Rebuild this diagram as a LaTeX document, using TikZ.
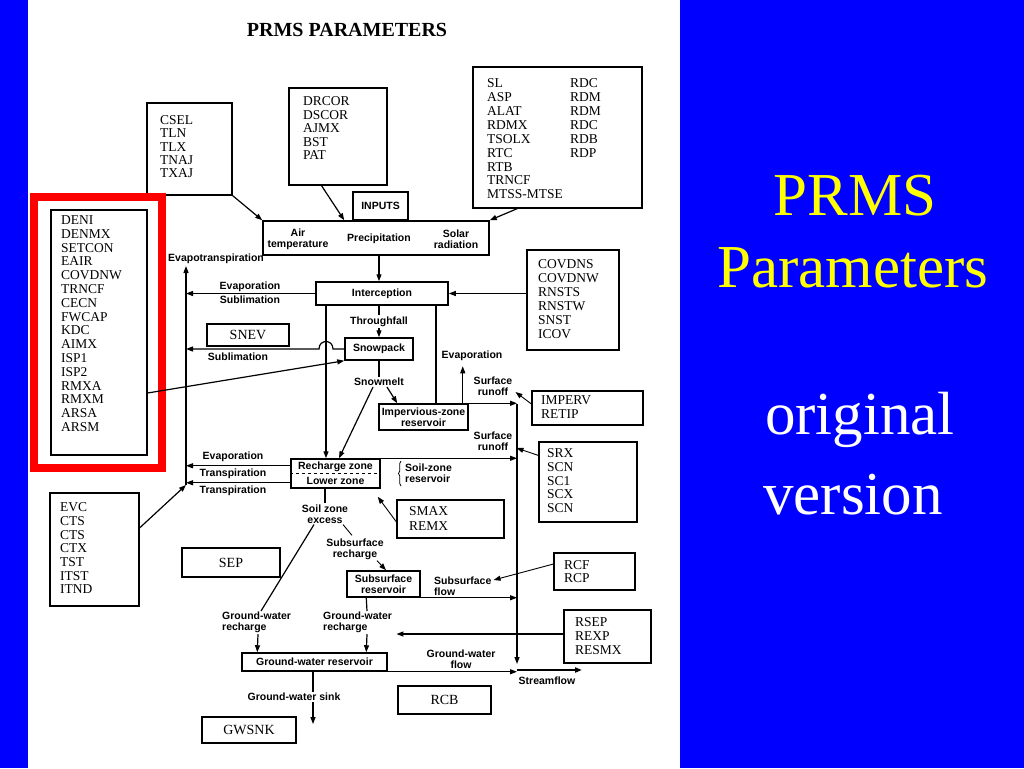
\documentclass[tikz,border=0pt]{standalone}
\usepackage{fontspec}
\setmainfont{Liberation Serif}
\setsansfont{Liberation Sans}
\usetikzlibrary{arrows.meta,calc,decorations.pathreplacing}
\newcommand{\labfont}{\sffamily\bfseries\fontsize{10.5}{11}\selectfont}
\newcommand{\plistfont}[1]{\rmfamily\fontsize{13.5}{#1}\selectfont}
\definecolor{slideblue}{RGB}{0,0,255}
\definecolor{slideyellow}{RGB}{255,255,0}
\begin{document}
\begin{tikzpicture}[x=1pt,y=-1pt,
  pbox/.style={draw, line width=1.1pt, rectangle, inner sep=0pt},
  procbox/.style={draw, line width=1.5pt, rectangle, inner sep=0pt, font=\labfont, align=center},
  plab/.style={font=\labfont, align=center, inner sep=1pt},
  ptext/.style={anchor=north west, align=left, inner sep=0pt},
  flowarr/.style={-{Triangle[length=7pt,width=5pt]}, line width=1.2pt},
  flowline/.style={line width=1.2pt}]
\useasboundingbox (0,0) rectangle (1024,768);
\fill[slideblue] (0,0) rectangle (1024,768);
\fill[white] (28,0) rectangle (680,768);

% title
\node[font=\rmfamily\bfseries\fontsize{20}{20}\selectfont] (title) at (347,30) {PRMS PARAMETERS};

% right side text
\node[font=\rmfamily\fontsize{61}{61}\selectfont, text=slideyellow] (t1) at (855,196) {PRMS};
\node[font=\rmfamily\fontsize{61}{61}\selectfont, text=slideyellow] (t2) at (853,268) {Parameters};
\node[font=\rmfamily\fontsize{61}{61}\selectfont, text=white] (t3) at (860,420) {original};
\node[font=\rmfamily\fontsize{61}{61}\selectfont, text=white] (t4) at (853,495) {version};

% parameter boxes
\node[pbox, minimum width=85pt, minimum height=92pt] (csel) at (189.5,149) {};
\node[ptext, font={\plistfont{13.25}}] (cselt) at (160,115.5) {CSEL\\TLN\\TLX\\TNAJ\\TXAJ};
\node[pbox, minimum width=98pt, minimum height=97pt] (drcor) at (338,136.5) {};
\node[ptext, font={\plistfont{13.5}}] (drcort) at (303,96.5) {DRCOR\\DSCOR\\AJMX\\BST\\PAT};
\node[pbox, minimum width=169pt, minimum height=141pt] (sl) at (557.5,137.5) {};
\node[ptext, font={\plistfont{13.9}}] (slt) at (487,78.5) {SL\\ASP\\ALAT\\RDMX\\TSOLX\\RTC\\RTB\\TRNCF\\MTSS-MTSE};
\node[ptext, font={\plistfont{13.9}}] (slt2) at (570,78.5) {RDC\\RDM\\RDM\\RDC\\RDB\\RDP};
\node[pbox, minimum width=96pt, minimum height=245pt] (deni) at (99,332.5) {};
\node[ptext, font={\plistfont{13.8}}] (denit) at (61,215.5) {DENI\\DENMX\\SETCON\\EAIR\\COVDNW\\TRNCF\\CECN\\FWCAP\\KDC\\AIMX\\ISP1\\ISP2\\RMXA\\RMXM\\ARSA\\ARSM};
\draw[red, line width=8pt] (34,197) rectangle (162,468);
\node[pbox, minimum width=92pt, minimum height=100pt] (covdns) at (573,300) {};
\node[ptext, font={\plistfont{14}}] (covdnst) at (538,259.5) {COVDNS\\COVDNW\\RNSTS\\RNSTW\\SNST\\ICOV};
\node[pbox, minimum width=82pt, minimum height=22pt, font=\rmfamily\fontsize{14}{14}\selectfont] (snev) at (248,335) {SNEV};
\node[pbox, minimum width=111pt, minimum height=34pt] (impervp) at (587.5,408) {};
\node[ptext, font={\plistfont{14}}] (impervt) at (541,395.5) {IMPERV\\RETIP};
\node[pbox, minimum width=98pt, minimum height=80pt] (srx) at (588,482) {};
\node[ptext, font={\plistfont{13.7}}] (srxt) at (547,448.5) {SRX\\SCN\\SC1\\SCX\\SCN};
\node[pbox, minimum width=107pt, minimum height=38pt] (smax) at (450.5,519) {};
\node[ptext, font={\plistfont{15}}] (smaxt) at (409,506.5) {SMAX\\REMX};
\node[pbox, minimum width=89pt, minimum height=113pt] (evc) at (94.5,549.5) {};
\node[ptext, font={\plistfont{13.7}}] (evct) at (60,502.5) {EVC\\CTS\\CTS\\CTX\\TST\\ITST\\ITND};
\node[pbox, minimum width=98pt, minimum height=29pt, font=\rmfamily\fontsize{14}{14}\selectfont] (sep) at (231,562.5) {SEP};
\node[pbox, minimum width=81pt, minimum height=37pt] (rcf) at (594.5,571.5) {};
\node[ptext, font={\plistfont{13}}] (rcft) at (564,560.5) {RCF\\RCP};
\node[pbox, minimum width=87pt, minimum height=53pt] (rsep) at (607.5,636.5) {};
\node[ptext, font={\plistfont{14}}] (rsept) at (575,617.5) {RSEP\\REXP\\RESMX};
\node[pbox, minimum width=93pt, minimum height=28pt, font=\rmfamily\fontsize{14}{14}\selectfont] (rcb) at (444.5,700) {RCB};
\node[pbox, minimum width=94pt, minimum height=26pt, font=\rmfamily\fontsize{14}{14}\selectfont] (gwsnk) at (249,730) {GWSNK};

% process boxes
\node[procbox, minimum width=226pt, minimum height=34pt] (inputs) at (376,238) {};
\node[procbox, minimum width=55pt, minimum height=28pt] (inlab) at (380.5,206) {INPUTS};
\node[plab] (tair) at (298,239) {Air\\temperature};
\node[plab] (tprec) at (379,239) {Precipitation};
\node[plab] (tsol) at (456,239) {Solar\\radiation};
\node[procbox, minimum width=132pt, minimum height=23pt] (interc) at (382,293.5) {Interception};
\node[procbox, minimum width=68pt, minimum height=22pt] (snow) at (379,349) {Snowpack};
\node[procbox, minimum width=89pt, minimum height=26pt] (imperv) at (423.5,417) {Impervious-zone\\reservoir};
\node[procbox, minimum width=89pt, minimum height=29pt] (rech) at (335.5,473.5) {};
\node[plab] (trz) at (335.5,467) {Recharge zone};
\node[plab] (tlz) at (335.5,481) {Lower zone};
\node[procbox, minimum width=73pt, minimum height=26pt] (subs) at (383.5,584) {Subsurface\\reservoir};
\node[procbox, minimum width=145pt, minimum height=18pt] (gwres) at (314.5,662) {Ground-water reservoir};

% labels
\node[plab, anchor=west] (tet) at (167,259) {Evapotranspiration};
\node[plab] (tevap1) at (250,287) {Evaporation};
\node[plab] (tsub1) at (250,300) {Sublimation};
\node[plab] (tsub2) at (238,357) {Sublimation};
\node[plab] (tsmelt) at (379,382) {Snowmelt};
\node[plab] (tevap2) at (472,356) {Evaporation};
\node[plab] (trun1) at (493,386) {Surface\\runoff};
\node[plab] (trun2) at (493,441) {Surface\\runoff};
\node[plab] (tevap3) at (233,457) {Evaporation};
\node[plab] (ttr1) at (233,474) {Transpiration};
\node[plab] (ttr2) at (233,491) {Transpiration};
\node[plab, anchor=west, align=left] (tsoil) at (404,473) {Soil-zone\\reservoir};
\node[plab] (tsze) at (325,514) {Soil zone\\excess};
\node[plab] (tssr) at (355,549) {Subsurface\\recharge};
\node[plab, anchor=west, align=left] (tssf) at (433,586) {Subsurface\\flow};
\node[plab, anchor=north west, align=left] (tgwr1) at (221,611) {Ground-water\\recharge};
\node[plab, anchor=north west, align=left] (tgwr2) at (322,611) {Ground-water\\recharge};
\node[plab] (tgwf) at (461,659) {Ground-water\\flow};
\node[plab] (tsink) at (294,697) {Ground-water sink};
\node[plab] (tstream) at (547,681) {Streamflow};

% coordinates
\coordinate (etbot) at (186,485);
\coordinate (ettop) at (186,266);
\coordinate (vx) at (326,305);
\coordinate (vy) at (436,305);
\coordinate (sftop) at (517,404);
\coordinate (sfbot) at (517,664);
\coordinate (sf1) at (517,670);
\coordinate (sf2) at (582,670);

% connectors
\draw[flowarr] (etbot) -- (ettop);
\draw[flowarr] (csel.south east) -- (inputs.north west);
\draw[flowarr] ($(drcor.south west)+(33,0)$) -- ($(inputs.north west)+(82,0)$);
\draw[flowarr] ($(sl.south west)+(45,0)$) -- (inputs.north east);
\draw[flowarr] (inputs.south -| snow.north) -- (interc.north -| snow.north);
\draw[flowarr] (interc.west) -- (interc.west -| etbot);
\draw[flowarr] (covdns.west |- interc.east) -- (interc.east);
\draw[flowarr] (interc.south -| snow.north) -- (snow.north)
  node[plab, fill=white, midway, inner sep=1.5pt] (tthru) {Throughfall};
\draw[flowarr] (snow.west) -- ($(snow.west -| vx)+(7,0)$)
  .. controls ($(snow.west -| vx)+(7,-10)$) and ($(snow.west -| vx)+(-7,-10)$) .. ($(snow.west -| vx)+(-7,0)$)
  -- (snow.west -| etbot);
\draw[flowarr] ($(deni.east)+(0,60.5)$) -- (snow.south west);
\draw[flowarr] (interc.south -| vx) -- (rech.north -| vx);
\draw[flowline] (interc.south -| vy) -- (imperv.north -| vy);
\draw[flowline] (snow.south) -- (tsmelt.north);
\draw[flowarr] ($(tsmelt.south)+(-6,0)$) -- ($(rech.north)+(3.5,0)$);
\draw[flowarr] ($(tsmelt.south)+(8,0)$) -- ($(imperv.north west)+(19,0)$);
\draw[flowarr] ($(imperv.north east)+(-6,0)$) -- ($(imperv.north east)+(-6,-37)$);
\draw[flowarr] (imperv.north east) -- (imperv.north east -| sftop);
\draw[flowarr] (sftop) -- (sfbot);
\draw[flowarr, line width=0.9pt] ($(impervp.west)+(0,-4)$) -- ($(trun1.east)+(2,6)$);
\draw[flowarr, line width=0.9pt] ($(srx.north west)+(0,14)$) -- ($(trun2.east)+(3,7)$);
\draw[flowarr] (rech.north east) -- (rech.north east -| sftop);
\draw[dashed, line width=0.8pt] (rech.west) -- (rech.east);
\path ($(rech.north west)+(0,7.5)$) coordinate (e1);
\path ($(rech.south west)+(0,-6)$) coordinate (e2);
\draw[flowarr] (e1) -- (e1 -| etbot);
\draw[flowarr] (e2) -- (e2 -| etbot);
\draw[decorate, decoration={brace, amplitude=2.5pt}, line width=0.8pt] (401,486) -- (401,461);
\draw[flowline] (rech.south -| tsze) -- (tsze.north);
\draw[flowline] ($(tsze.south)+(-11,0)$) -- ($(tgwr1.north west)+(40,0)$);
\draw[flowline, line width=0.9pt] ($(tsze.south)+(18,0)$) -- ($(tssr.north)+(-3,-2)$);
\draw[flowarr, line width=0.9pt] ($(tssr.south)+(22,0)$) -- ($(subs.north)+(2.5,0)$);
\draw[flowarr, line width=0.9pt] ($(smax.west)+(0,3)$) -- ($(rech.south east)+(-3,8)$);
\draw[flowarr] (subs.south east) -- (subs.south east -| sftop);
\draw[flowarr, line width=0.9pt] ($(rcf.west)+(0,-7.5)$) -- ($(tssf.east)+(1,-6)$);
\draw[flowarr] ($(tgwr1.south west)+(37,0)$) -- ($(gwres.north west)+(16,0)$);
\draw[flowline] ($(subs.south west)+(20,0)$) -- ($(tgwr2.north west)+(45,0)$);
\draw[flowarr] ($(tgwr2.south west)+(45,0)$) -- ($(gwres.north west)+(125,0)$);
\draw[flowarr] ($(rsep.west)+(0,-2.5)$) coordinate (rs) -- ($(rs)+(-167,0)$) coordinate (rsend);
\draw[flowarr] (gwres.south east) -- (gwres.south east -| sftop);
\draw[flowarr, line width=2pt] (sf1) -- (sf2);
\draw[flowline] ($(gwres.south)+(-1.5,0)$) -- ($(tsink.north)+(19,0)$);
\draw[flowarr] ($(tsink.south)+(19,0)$) -- ++(0,22);
\draw[flowarr] ($(evc.east)+(0,-21.5)$) -- (etbot);
\end{tikzpicture}
\end{document}
